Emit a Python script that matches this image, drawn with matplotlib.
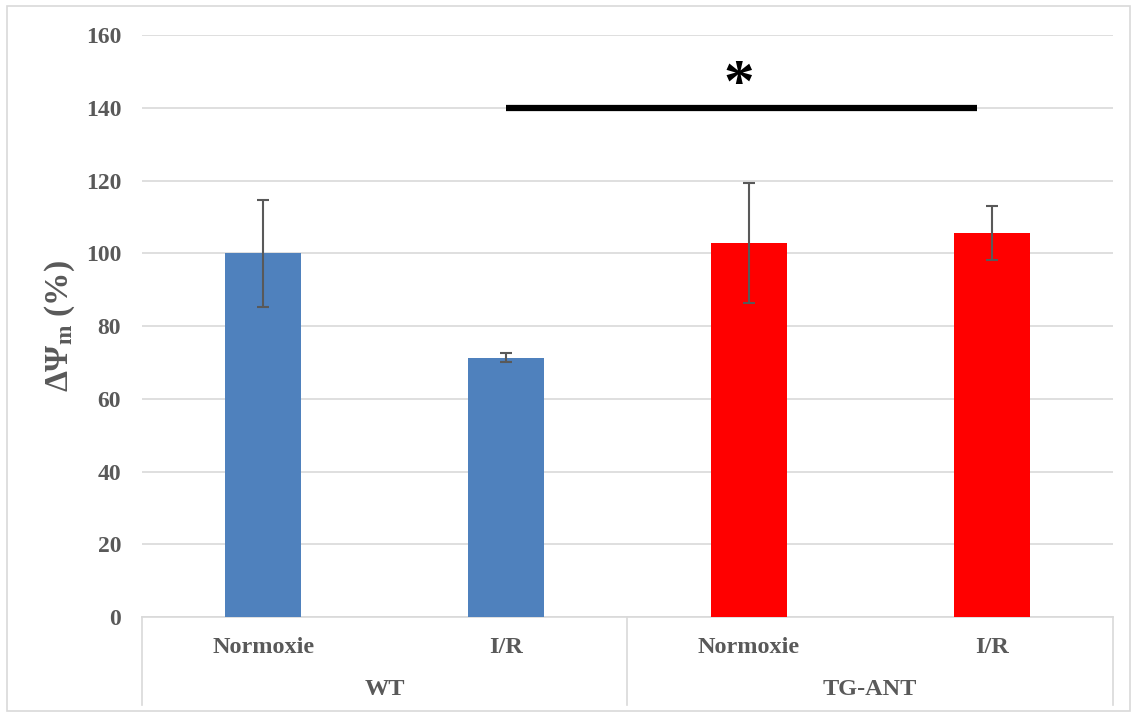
import numpy as np
import matplotlib
matplotlib.use("Agg")
import matplotlib.pyplot as plt
from matplotlib.lines import Line2D
from matplotlib.patches import Rectangle
import matplotlib.transforms as mtransforms

plt.rcParams['font.family'] = ['Liberation Serif', 'DejaVu Serif']
plt.rcParams['font.weight'] = 'bold'
plt.rcParams['mathtext.fontset'] = 'custom'
plt.rcParams['mathtext.rm'] = 'Liberation Serif:bold'
plt.rcParams['mathtext.bf'] = 'Liberation Serif:bold'
plt.rcParams['mathtext.it'] = 'Liberation Serif:bold'

# data
conditions = ["Normoxie", "I/R", "Normoxie", "I/R"]
groups = ["WT", "TG-ANT"]
values = [100.0, 71.3, 102.8, 105.6]
errors = [14.7, 1.2, 16.6, 7.5]
colors = ["#4f81bd", "#4f81bd", "#ff0000", "#ff0000"]
yticks = [0, 20, 40, 60, 80, 100, 120, 140, 160]
sig_x = [1, 2.94]
sig_y = 140
sig_label = "*"

text_gray = "#595959"
grid_gray = "#d9d9d9"

fig = plt.figure(figsize=(11.33, 7.13), dpi=100)
ax = fig.add_axes([0.1253, 0.1346, 0.857, 0.8163])

x = np.arange(len(values))
ax.bar(x, values, width=0.313, color=colors, zorder=3)
ax.errorbar(x, values, yerr=errors, fmt='none', ecolor=text_gray,
            elinewidth=1.5, capsize=4.3, capthick=1.5, zorder=4)

ax.set_xlim(-0.5, 3.5)
ax.set_ylim(0, 160)
ax.set_yticks(yticks)
ax.set_yticklabels([str(v) for v in yticks], fontsize=17, color=text_gray,
                   fontweight='bold')
ax.tick_params(axis='y', length=0, pad=15)
ax.set_xticks([])
ax.grid(axis='y', color=grid_gray, linewidth=1.2, zorder=0)
for s in ['left', 'right', 'top']:
    ax.spines[s].set_visible(False)
ax.spines['bottom'].set_color(grid_gray)
ax.spines['bottom'].set_linewidth(1.2)

ax.set_ylabel(r'ΔΨ$_\mathbf{m}$ (%)', fontsize=24, color=text_gray,
              fontweight='bold', labelpad=6)

# significance bar
ax.plot(sig_x, [sig_y, sig_y], color='black', linewidth=4.5,
        solid_capstyle='butt', zorder=5)
ax.text(np.mean(sig_x) - 0.01, sig_y + 6, sig_label, ha='center', va='center',
        fontsize=44, color='black', fontweight='bold')

# category axis below
trans = mtransforms.blended_transform_factory(ax.transData, ax.transAxes)
for xv in [-0.5, 1.5, 3.5]:
    ax.add_line(Line2D([xv, xv], [0, -0.151], transform=trans, color=grid_gray,
                       linewidth=1.2, clip_on=False))
for xi, lab in zip(x, conditions):
    ax.text(xi, -0.0515, lab, transform=trans, ha='center', va='center',
            fontsize=17.5, color=text_gray, fontweight='bold')
for gi, lab in enumerate(groups):
    ax.text(0.5 + 2 * gi, -0.125, lab, transform=trans, ha='center',
            va='center', fontsize=17.5, color=text_gray, fontweight='bold')

# chart border
fig.patches.append(Rectangle((7 / 1133, 2 / 713), 1 - 10 / 1133, 1 - 8 / 713,
                             transform=fig.transFigure, fill=False,
                             edgecolor=grid_gray, linewidth=1.2))

fig.savefig("out.png", dpi=100)
